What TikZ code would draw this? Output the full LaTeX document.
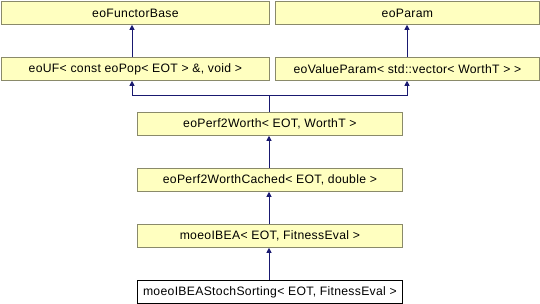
\documentclass[tikz,border=0pt]{standalone}
\usepackage{fontspec}
\setmainfont{Liberation Sans}[LetterSpace=2.5]
\usetikzlibrary{arrows.meta}
\definecolor{boxfill}{HTML}{FFFFC0}
\definecolor{boxline}{HTML}{8A8A6A}
\definecolor{edgecol}{HTML}{191970}
\begin{document}
\begin{tikzpicture}[x=1pt,y=-1pt,
  cls/.style={draw=boxline,fill=boxfill,line width=0.8pt,minimum height=23pt,inner sep=0pt,anchor=north west,font=\fontsize{12.2}{13}\selectfont},
  curcls/.style={cls,draw=black,fill=white},
  inh/.style={draw=edgecol,line width=1pt,-{Triangle[length=5pt,width=5pt]}}]
\useasboundingbox (0,0) rectangle (540,304);
\node[cls,minimum width=268pt] (fb) at (1,1) {eoFunctorBase};
\node[cls,minimum width=264pt] (par) at (275,1) {eoParam};
\node[cls,minimum width=268pt] (uf) at (1,57) {eoUF< const eoPop< EOT > \&, void >};
\node[cls,minimum width=264pt] (vp) at (275,57) {eoValueParam< std::vector< WorthT > >};
\node[cls,minimum width=265pt] (pw) at (137,112) {eoPerf2Worth< EOT, WorthT >};
\node[cls,minimum width=265pt] (pwc) at (137,168) {eoPerf2WorthCached< EOT, double >};
\node[cls,minimum width=265pt] (ibea) at (137,224) {moeoIBEA< EOT, FitnessEval >};
\node[curcls,minimum width=265pt] (st) at (137,280) {moeoIBEAStochSorting< EOT, FitnessEval >};
\coordinate (j) at (269,96);
\draw[inh] (uf.north -| 132,0) -- (fb.south -| 132,0);
\draw[inh] (vp.north -| 407,0) -- (par.south -| 407,0);
\draw[edgecol,line width=1pt] (pw.north -| j) -- (j);
\draw[inh] (j) -| (uf.south -| 132,0);
\draw[inh] (j) -| (vp.south -| 407,0);
\draw[inh] (pwc.north -| j) -- (pw.south -| j);
\draw[inh] (ibea.north -| j) -- (pwc.south -| j);
\draw[inh] (st.north -| j) -- (ibea.south -| j);
\end{tikzpicture}
\end{document}
